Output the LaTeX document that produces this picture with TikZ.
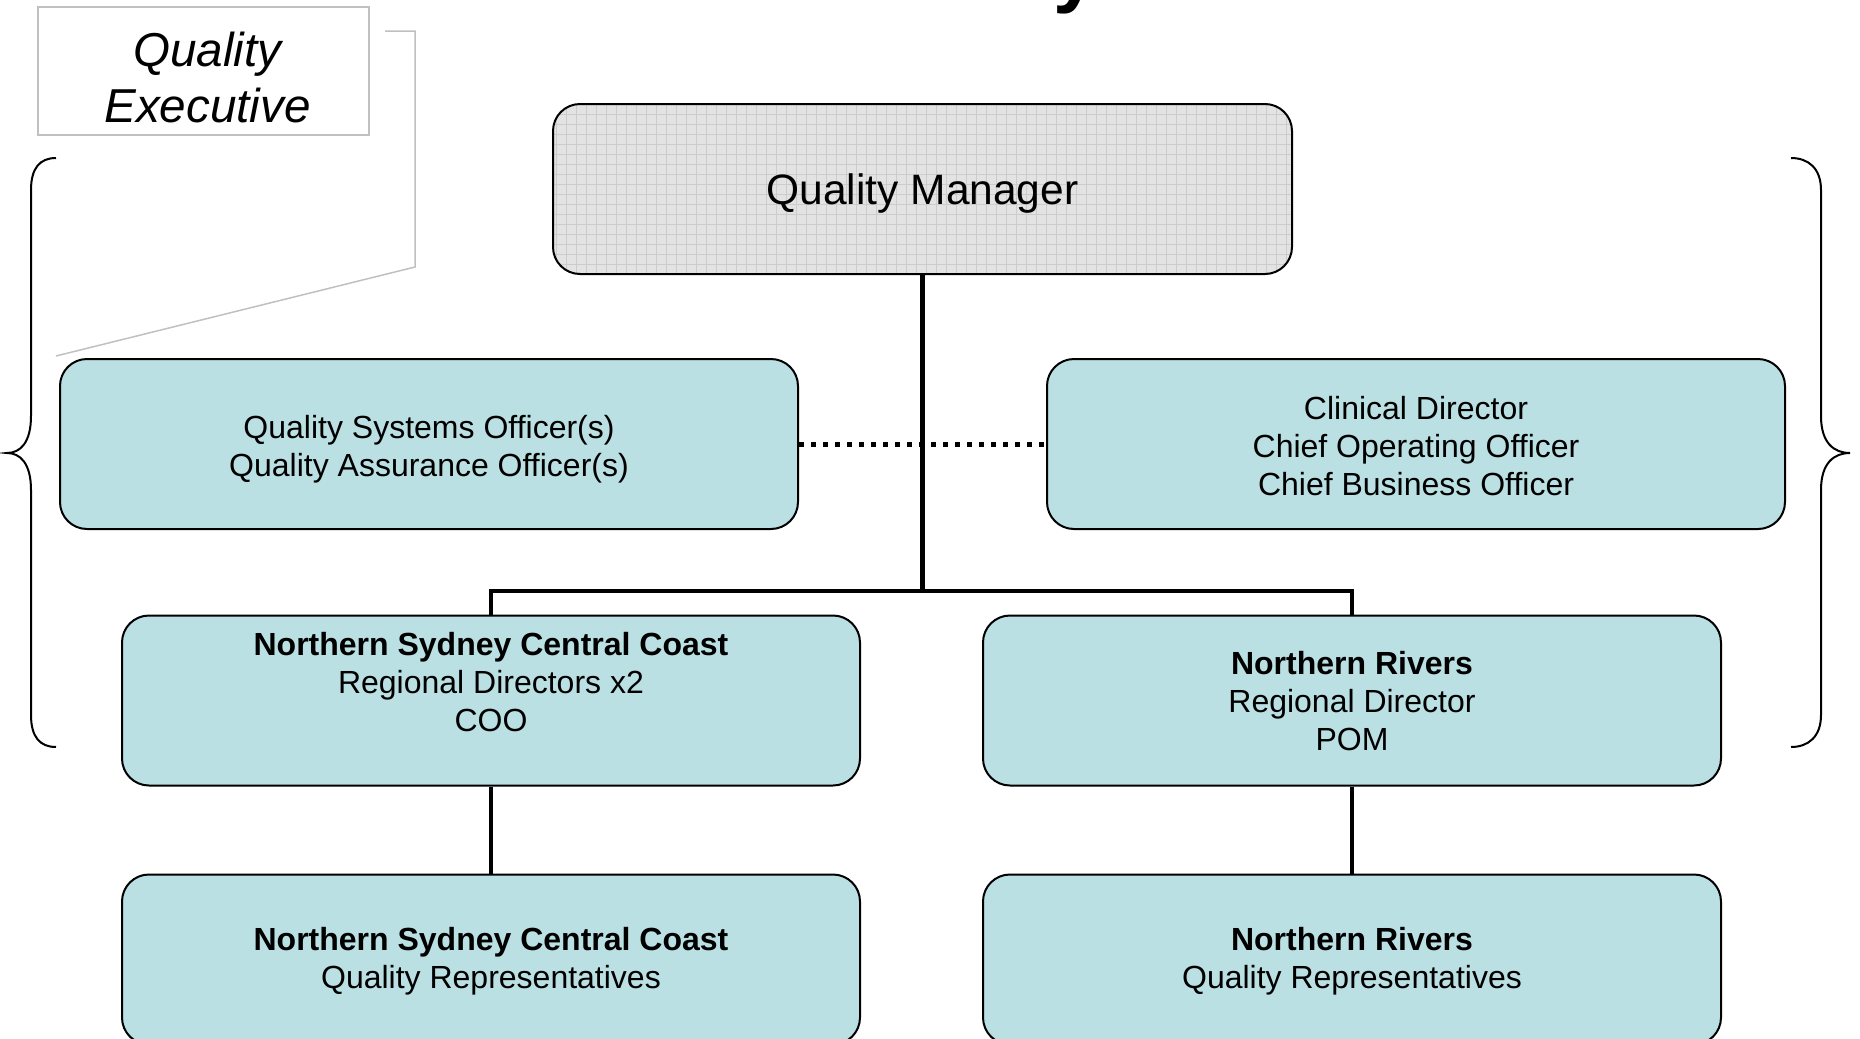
\documentclass[tikz,border=0pt]{standalone}
\usepackage{fontspec}
\setmainfont{Liberation Sans}
\usepackage{xcolor}
\usepackage{tikz}
\usetikzlibrary{positioning}

\definecolor{boxblue}{RGB}{186,224,227}
\definecolor{calloutgray}{RGB}{192,192,192}
\newcommand{\boxlines}[2][0pt]{\raisebox{-#1}[\height][\depth]{\begin{tabular}{@{}c@{}}#2\end{tabular}}}

\begin{document}
\begin{tikzpicture}[x=0.5pt, y=-0.5pt,
  box/.style={draw, line width=1pt, rounded corners=13.5pt, fill=boxblue,
    minimum width=369pt, minimum height=85pt, align=center, text depth=0pt,
    font=\fontsize{16pt}{19pt}\selectfont},
  link/.style={line width=2.25pt},
  dotlink/.style={line width=2.5pt, dash pattern=on 2.5pt off 3.5pt},
  node distance=43.5pt]
\useasboundingbox (0,0) rectangle (1860,1039);
\clip (0,0) rectangle (1860,1039);

% Title, cut off by the top edge
\node (title) [anchor=base west, inner sep=0pt, font=\fontsize{40pt}{48pt}\selectfont\bfseries] at (1053,-3) {y};

% Top box
\node (qm) [box, minimum width=369.5pt, fill=gray!22, text depth=-1pt, font=\fontsize{21.25pt}{25pt}\selectfont,
  path picture={\draw[black!20, line width=0.4pt, step=5pt] (path picture bounding box.south west) grid (path picture bounding box.north east);}]
  at (922.5,189) {Quality Manager};

% Quality Executive row
\node (qso) [box, text depth=] at (429,444) {\boxlines[3pt]{Quality Systems Officer(s)\\Quality Assurance Officer(s)}};
\node (cdir) [box, text depth=, right=123.5pt of qso] {\boxlines[3pt]{Clinical Director\\Chief Operating Officer\\Chief Business Officer}};

% Regions
\node (nscc) [box] at (491,700.5) {\textbf{Northern Sydney Central Coast}\\Regional Directors x2\\COO\\\mbox{}};
\node (nr) [box] at (1352,700.5) {\textbf{Northern Rivers}\\Regional Director\\POM};
\node (nsccq) [box, text depth=1.5pt, below=of nscc] {\textbf{Northern Sydney Central Coast}\\Quality Representatives};
\node (nrq) [box, text depth=1.5pt, below=of nr] {\textbf{Northern Rivers}\\Quality Representatives};

% Callout
\node (qexec) [draw=calloutgray, line width=1pt, minimum width=165.5pt, minimum height=64pt,
  font=\fontsize{23.8pt}{28pt}\selectfont\itshape] at (203.5,71) {\boxlines[6pt]{\hspace*{4pt}Quality\\\hspace*{4pt}Executive}};
\coordinate (calloutA) at (385,31);
\coordinate (calloutB) at (415,31);
\coordinate (calloutC) at (415,267);
\coordinate (calloutD) at (56,356);
\draw[calloutgray, line width=0.75pt] (calloutA) -- (calloutB) -- (calloutC) -- (calloutD);

% Braces
\draw[line width=1pt] (56,158) .. controls (40,158) and (31,168) .. (31,190) -- (31,416)
  .. controls (31,443) and (20,453) .. (7,453) .. controls (20,453) and (31,463) .. (31,490)
  -- (31,715) .. controls (31,737) and (40,747) .. (56,747);
\draw[line width=1pt] (1791,158) .. controls (1808,158) and (1821,168) .. (1821,190) -- (1821,416)
  .. controls (1821,443) and (1834,453) .. (1850,453) .. controls (1834,453) and (1821,463) .. (1821,490)
  -- (1821,715) .. controls (1821,737) and (1808,747) .. (1791,747);

% Connectors
\coordinate (bus) at (922.5,591);
\draw[dotlink] (qso.east) -- (cdir.west);
\draw[link] (qm.south) -- (bus);
\draw[link] (nscc.north) |- (bus) -| (nr.north);
\draw[link] (nscc.south) -- (nsccq.north);
\draw[link] (nr.south) -- (nrq.north);

\end{tikzpicture}
\end{document}
